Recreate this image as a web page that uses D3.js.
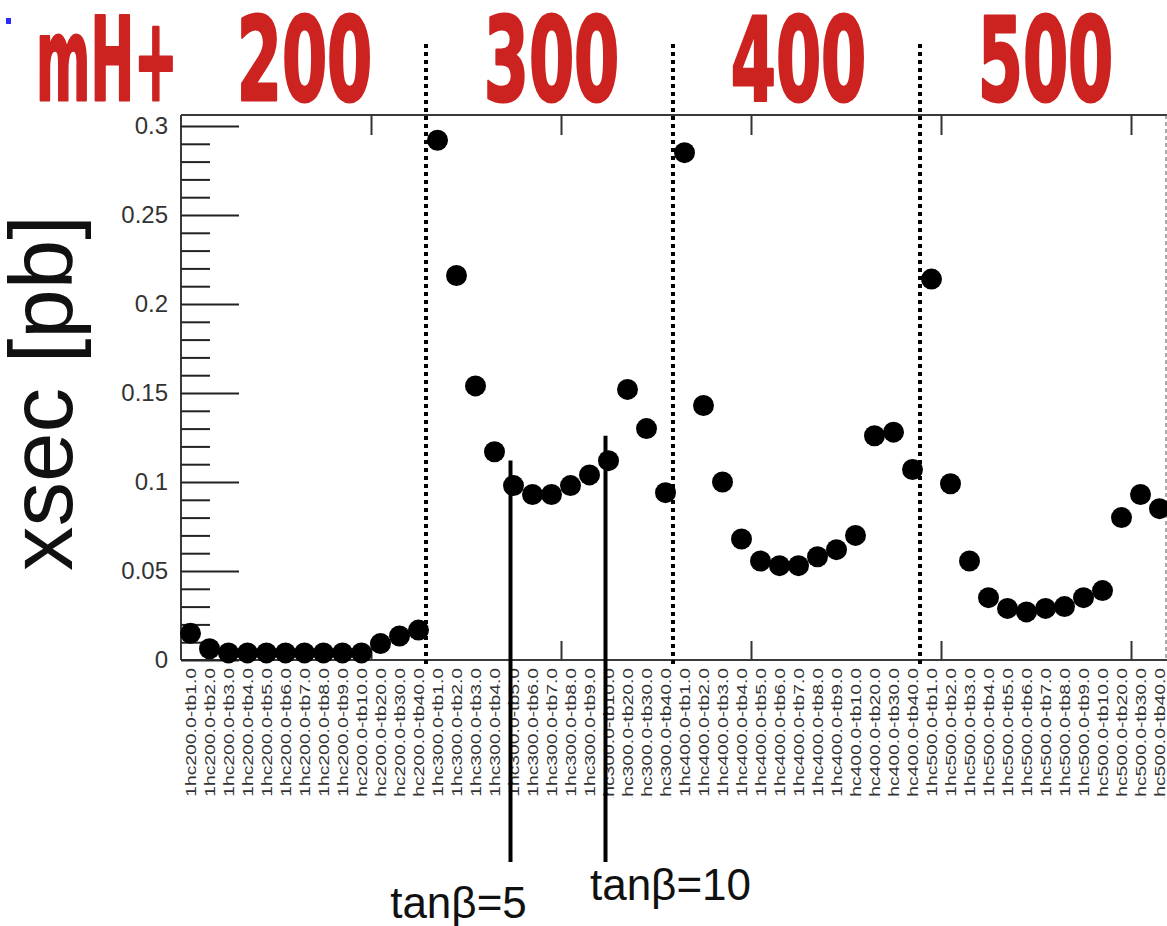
<!DOCTYPE html>
<html>
<head>
<meta charset="utf-8">
<script src="https://cdn.jsdelivr.net/npm/d3@7"></script>
<style>
	html, body { margin: 0; padding: 0; background: #fff; }
	svg { display: block; }
</style>
</head>
<body>
<svg id="chart" width="1167" height="926"></svg>
<script>
	// masses (mH+) and tan(beta) points of the scan
	const masses = [ 200, 300, 400, 500, 600 ];
	const tanBeta = [ 1, 2, 3, 4, 5, 6, 7, 8, 9, 10, 20, 30, 40 ];

	// cross sections in pb, one list per mass
	const xsec200 = [ 0.015, 0.0063, 0.004, 0.004, 0.004, 0.004, 0.004, 0.004, 0.004, 0.004, 0.0092, 0.0135, 0.0168 ];
	const xsec300 = [ 0.292, 0.216, 0.154, 0.117, 0.098, 0.093, 0.093, 0.098, 0.104, 0.112, 0.152, 0.130, 0.094 ];
	const xsec400 = [ 0.285, 0.143, 0.100, 0.068, 0.0556, 0.053, 0.053, 0.058, 0.062, 0.070, 0.126, 0.128, 0.107 ];
	const xsec500 = [ 0.214, 0.099, 0.0556, 0.035, 0.029, 0.027, 0.029, 0.030, 0.035, 0.039, 0.080, 0.093, 0.085 ];
	const xsec600 = [ 0.153 ];

	const yMajor = [ 0, 0.05, 0.1, 0.15, 0.2, 0.25, 0.3 ];
	const yMajorLabels = [ '0', '0.05', '0.1', '0.15', '0.2', '0.25', '0.3' ];
	const xMajor = [ 10, 20, 30, 40, 50 ];
	const markedTb = [ 5, 10 ];

	let points = [];
	[ xsec200, xsec300, xsec400, xsec500, xsec600 ].forEach( ( list, m ) => {
		list.forEach( ( v, t ) => {
			points.push( {
				idx: points.length,
				mass: masses[ m ],
				tb: tanBeta[ t ],
				value: v,
				label: '1hc' + masses[ m ] + '.0-tb' + tanBeta[ t ] + '.0'
			} );
		} );
	} );

	let svg = d3.select( '#chart' ),
		plotLeft = 181, plotTop = 115, plotBottom = 660;

	let x = d3.scaleLinear().domain( [ 0, 53 ] ).range( [ plotLeft, plotLeft + 19 * 53 ] ),
		y = d3.scaleLinear().domain( [ 0, 0.3 ] ).range( [ plotBottom, 126 ] );

	// little blue mark top-left
	svg.append( 'rect' ).attr( 'x', 6 ).attr( 'y', 18 ).attr( 'width', 5 ).attr( 'height', 6 ).attr( 'fill', '#2b2bff' );

	// red header (squeezed bold font, rounded stroke to look hand drawn)
	let header = svg.append( 'g' )
		.style( 'font-family', '"DejaVu Sans", sans-serif' )
		.style( 'font-weight', 'bold' )
		.style( 'font-size', '116px' )
		.attr( 'fill', '#cc2321' )
		.attr( 'stroke', '#cc2321' )
		.attr( 'stroke-width', 3 )
		.attr( 'stroke-linejoin', 'round' );
	header.append( 'text' )
		.attr( 'transform', 'translate(36,100) scale(0.45,1)' )
		.text( 'mH+' );
	header.selectAll( 'text.mass' ).data( masses.slice( 0, 4 ) )
		.enter().append( 'text' ).attr( 'class', 'mass' )
		.attr( 'transform', ( d, i ) => 'translate(' + x( i * 13 + 6.5 ) + ',100) scale(0.56,1)' )
		.attr( 'text-anchor', 'middle' )
		.text( d => d );

	// frame lines
	let frame = svg.append( 'g' ).attr( 'stroke', '#3a3a3a' ).attr( 'stroke-width', 2 );
	frame.append( 'line' ).attr( 'x1', plotLeft ).attr( 'x2', 1167 ).attr( 'y1', plotTop ).attr( 'y2', plotTop );
	frame.append( 'line' ).attr( 'x1', plotLeft ).attr( 'x2', 1167 ).attr( 'y1', plotBottom ).attr( 'y2', plotBottom );
	frame.append( 'line' ).attr( 'x1', plotLeft ).attr( 'x2', plotLeft ).attr( 'y1', plotTop ).attr( 'y2', plotBottom );
	svg.append( 'line' ).attr( 'x1', 1166 ).attr( 'x2', 1166 ).attr( 'y1', plotTop ).attr( 'y2', plotBottom )
		.attr( 'stroke', '#555' ).attr( 'stroke-width', 1 ).attr( 'stroke-dasharray', '4,3' );

	// y axis, major + minor ticks drawn inward
	let yAxis = svg.append( 'g' ).attr( 'transform', 'translate(' + plotLeft + ',0)' )
		.call( d3.axisLeft( y ).tickValues( yMajor ).tickSizeInner( -58 ).tickSizeOuter( 0 ).tickPadding( 13 )
			.tickFormat( ( d, i ) => yMajorLabels[ i ] ) );
	yAxis.select( '.domain' ).remove();
	yAxis.selectAll( 'line' ).attr( 'stroke', '#222' ).attr( 'stroke-width', 2 );
	yAxis.selectAll( 'text' )
		.style( 'font-family', '"Liberation Sans", Arial, sans-serif' )
		.style( 'font-size', '24px' ).attr( 'fill', '#333' );

	let minor = d3.range( 0, 31 ).map( d => d / 100 ).filter( d => Math.round( d * 100 ) % 5 !== 0 );
	let yMinor = svg.append( 'g' ).attr( 'transform', 'translate(' + plotLeft + ',0)' )
		.call( d3.axisLeft( y ).tickValues( minor ).tickSizeInner( -29 ).tickSizeOuter( 0 ).tickFormat( '' ) );
	yMinor.select( '.domain' ).remove();
	yMinor.selectAll( 'line' ).attr( 'stroke', '#222' ).attr( 'stroke-width', 2 );

	// x ticks top and bottom
	let xTop = svg.append( 'g' ).attr( 'transform', 'translate(0,' + plotTop + ')' )
		.call( d3.axisTop( x ).tickValues( xMajor ).tickSizeInner( -20 ).tickSizeOuter( 0 ).tickFormat( '' ) );
	let xBottom = svg.append( 'g' ).attr( 'transform', 'translate(0,' + plotBottom + ')' )
		.call( d3.axisBottom( x ).tickValues( xMajor ).tickSizeInner( -19 ).tickSizeOuter( 0 ).tickFormat( '' ) );
	[ xTop, xBottom ].forEach( a => {
		a.select( '.domain' ).remove();
		a.selectAll( 'line' ).attr( 'stroke', '#333' ).attr( 'stroke-width', 2 );
	} );

	// category labels, rotated
	svg.append( 'clipPath' ).attr( 'id', 'labClip' )
		.append( 'rect' ).attr( 'x', 0 ).attr( 'y', 662 ).attr( 'width', 1167 ).attr( 'height', 136 );
	svg.append( 'g' ).attr( 'clip-path', 'url(#labClip)' )
		.selectAll( 'text' ).data( points )
		.enter().append( 'text' )
		.attr( 'transform', d => 'translate(' + ( x( d.idx + 0.5 ) + 5 ) + ',668) rotate(-90) scale(1.38,1)' )
		.attr( 'text-anchor', 'end' )
		.style( 'font-family', '"Liberation Sans", Arial, sans-serif' )
		.style( 'font-size', '14px' )
		.attr( 'fill', '#333' )
		.text( d => d.label );

	// y label
	svg.append( 'text' )
		.attr( 'transform', 'translate(72,393) rotate(-90)' )
		.attr( 'text-anchor', 'middle' )
		.style( 'font-family', '"Liberation Sans", Arial, sans-serif' )
		.style( 'font-size', '89px' )
		.attr( 'fill', '#111' )
		.text( 'xsec [pb]' );

	// dotted separators between masses
	svg.selectAll( 'line.sep' ).data( [ 13, 26, 39 ] )
		.enter().append( 'line' ).attr( 'class', 'sep' )
		.attr( 'x1', d => x( d ) - 2 ).attr( 'x2', d => x( d ) - 2 )
		.attr( 'y1', 44 ).attr( 'y2', 668 )
		.attr( 'stroke', '#000' ).attr( 'stroke-width', 4 ).attr( 'stroke-dasharray', '4,4' );

	// points
	svg.append( 'g' ).selectAll( 'circle' ).data( points )
		.enter().append( 'circle' )
		.attr( 'cx', d => x( d.idx + 0.5 ) )
		.attr( 'cy', d => y( d.value ) )
		.attr( 'r', 10.5 )
		.attr( 'fill', '#000' );

	// tan(beta) markers for mH+ = 300
	let marked = points.filter( d => d.mass === 300 && markedTb.indexOf( d.tb ) >= 0 );
	svg.selectAll( 'line.mark' ).data( marked )
		.enter().append( 'line' ).attr( 'class', 'mark' )
		.attr( 'x1', d => x( d.idx + 0.5 ) - 3 ).attr( 'x2', d => x( d.idx + 0.5 ) - 3 )
		.attr( 'y1', d => y( d.value ) - 25 ).attr( 'y2', 862 )
		.attr( 'stroke', '#000' ).attr( 'stroke-width', 4 );
	svg.selectAll( 'text.mark' ).data( marked )
		.enter().append( 'text' ).attr( 'class', 'mark' )
		.attr( 'x', ( d, i ) => x( d.idx + 0.5 ) + ( i === 0 ? -55 : 62 ) )
		.attr( 'y', ( d, i ) => i === 0 ? 918 : 900 )
		.attr( 'text-anchor', 'middle' )
		.style( 'font-family', '"Liberation Sans", Arial, sans-serif' )
		.style( 'font-size', '44px' )
		.attr( 'fill', '#111' )
		.text( d => 'tanβ=' + d.tb );
</script>
</body>
</html>
